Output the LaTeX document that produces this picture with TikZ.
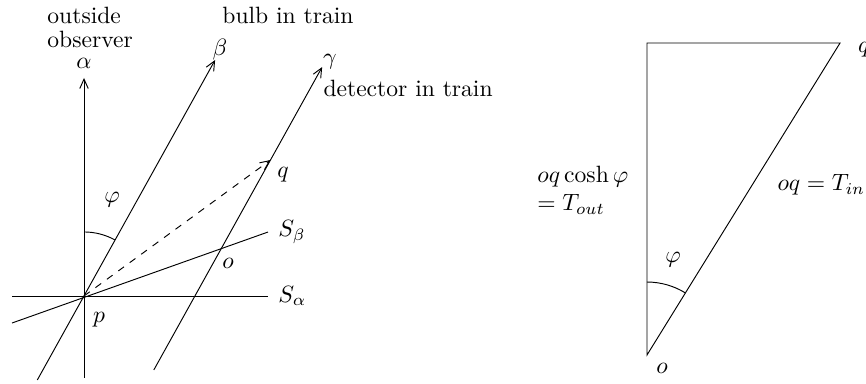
\documentclass[tikz,border=0pt]{standalone}
\usetikzlibrary{arrows.meta, positioning, calc}

\begin{document}
\begin{tikzpicture}[
    arrow/.style={-{Straight Barb[length=4pt, width=3.6pt]}},
    note/.style={align=left, anchor=west}
  ]
    \useasboundingbox (0,0) rectangle (12.906,5.708);

    % spacetime diagram
    \coordinate (p)    at (1.252,1.297);
    \coordinate (abot) at (1.252,0.075);
    \coordinate (atop) at (1.252,4.546);
    \coordinate (bbot) at (0.556,0.045);
    \coordinate (btop) at (3.206,4.814);
    \coordinate (o)    at (3.294,1.997);
    \coordinate (gbot) at (2.292,0.194);
    \coordinate (gtop) at (4.801,4.709);
    \coordinate (q)    at (4.031,3.323);
    \coordinate (sbl)  at (0.179,0.894);
    \coordinate (sbr)  at (3.994,2.250);
    \coordinate (sal)  at (0.179,1.297);
    \coordinate (sar)  at (3.994,1.297);

    \draw[arrow] (abot) -- (atop);
    \draw[arrow] (bbot) -- (btop);
    \draw[arrow] (gbot) -- (gtop);
    \draw (sal) -- (sar);
    \draw (sbl) -- (sbr);
    \draw[arrow, dashed] (p) -- (q);
    \draw ($(p)+(0,0.954)$) arc[start angle=90, end angle=61, radius=0.954];

    \node[note, inner sep=1pt] (obs) at (0.665,5.300) {outside\\[-1.5pt]observer};
    \node[inner sep=1pt] (alpha) at (1.252,4.770) {$\alpha$};
    \node (beta)  at (3.279,4.963) {$\beta$};
    \node (gamma) at (4.918,4.784) {$\gamma$};
    \node (bulb)  at (4.292,5.484) {bulb in train};
    \node[note] (det) at (4.697,4.396) {detector in train};
    \node[right=0.03cm of sbr] (sbeta)  {$S_\beta$};
    \node[right=0.03cm of sar] (salpha) {$S_\alpha$};
    \node (qlbl) at (4.218,3.100) {$q$};
    \node (olbl) at (3.398,1.788) {$o$};
    \node (plbl) at (1.475,0.939) {$p$};
    \node (phi)  at (1.669,2.727) {$\varphi$};

    % time triangle
    \coordinate (o2) at (9.642,0.417);
    \coordinate (tl) at (9.642,5.067);
    \coordinate (tr) at (12.519,5.067);

    \draw (o2) -- (tl) -- (tr) -- cycle;
    \draw ($(o2)+(0,1.088)$) arc[start angle=90, end angle=58.3, radius=1.088];

    \node (o2lbl)  at (9.866,0.224) {$o$};
    \node[note] (q2lbl) at (12.663,4.963) {$q$};
    \node (phi2)   at (10.030,1.833) {$\varphi$};
    \node[note] (tout) at (7.886,2.876) {$oq\cosh\varphi$\\$=T_{out}$};
    \node[note] (tin)  at (11.463,2.951) {$oq=T_{in}$};
  \end{tikzpicture}
\end{document}
